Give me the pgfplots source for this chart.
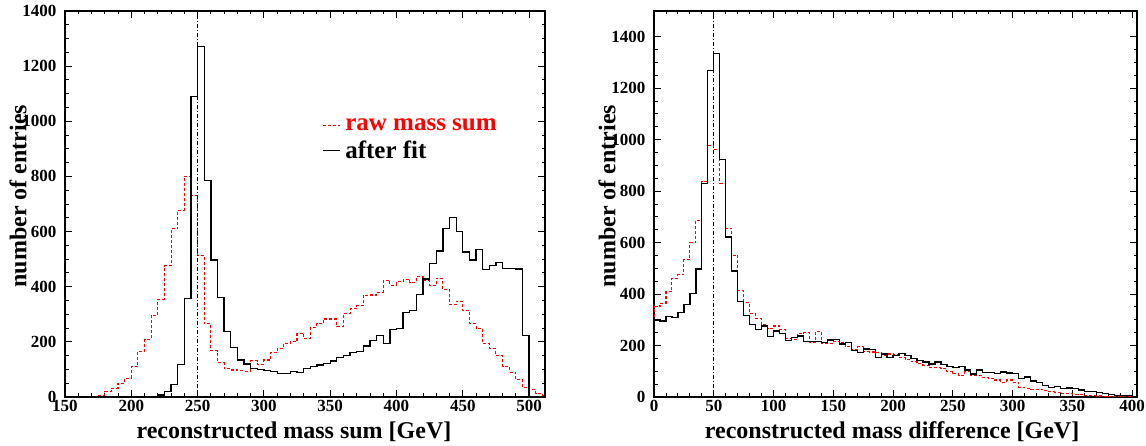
\documentclass[border=0pt]{standalone}
\usepackage{fontspec}
\setmainfont{Liberation Serif}
\usepackage{pgfplots}
\pgfplotsset{compat=1.18}
\usepackage{pgfplotstable}

\pgfplotstableread{
x y
150 0
200 1
205 1
210 2
215 3
220 7
225 20
230 46
235 118
240 357
245 1090
250 1272
255 785
260 497
265 362
270 237
275 180
280 134
285 120
290 104
295 100
300 96
305 92
310 86
315 86
320 92
325 88
330 104
335 110
340 116
345 122
350 131
355 144
360 150
365 161
370 164
375 185
380 204
385 224
390 195
395 245
400 249
405 306
410 313
415 372
420 428
425 485
430 530
435 612
440 651
445 600
450 526
455 497
460 536
465 463
470 476
475 489
480 467
485 467
490 464
495 224
500 0
512 0
}\sumfit

\pgfplotstableread{
x y
150 0
165 2
170 3
175 7
180 19
185 31
190 50
195 68
200 109
205 166
210 210
215 296
220 354
225 476
230 610
235 677
240 800
245 730
250 514
255 265
260 168
265 125
270 102
275 98
280 96
285 94
290 131
295 118
300 134
305 161
310 177
315 195
320 200
325 231
330 211
335 252
340 265
345 283
350 283
355 255
360 302
365 320
370 332
375 369
380 370
385 380
390 422
395 406
400 418
405 427
410 416
415 437
420 423
425 404
430 430
435 390
440 334
445 347
450 314
455 265
460 249
465 195
470 175
475 151
480 111
485 90
490 62
495 35
500 28
505 13
510 4
512 4
}\sumraw

\pgfplotstableread{
x y
0 0
0 299
5 295
10 314
15 309
20 329
25 360
30 402
35 497
40 829
45 1269
50 1334
55 923
60 622
65 490
70 370
75 318
80 283
85 263
90 276
95 234
100 256
105 248
110 219
115 232
120 237
125 215
130 215
135 215
140 211
145 221
150 224
155 206
160 211
165 180
170 173
175 186
180 185
185 154
190 167
195 154
200 162
205 170
210 160
215 150
220 141
225 136
230 128
235 136
240 127
245 119
250 115
255 118
260 105
265 89
270 105
275 94
280 94
285 92
290 97
295 93
300 90
305 72
310 78
315 62
320 55
325 45
330 38
335 40
340 32
345 35
350 32
355 27
360 22
365 21
370 18
375 14
380 10
385 6
390 6
395 5
400 0
404 0
}\difffit

\pgfplotstableread{
x y
0 0
0 351
5 364
10 409
15 461
20 476
25 534
30 599
35 686
40 836
45 977
50 963
55 829
60 655
65 551
70 413
75 367
80 325
85 305
90 280
95 267
100 276
105 262
110 228
115 225
120 247
125 250
130 211
135 254
140 208
145 208
150 217
155 211
160 195
165 185
170 195
175 176
180 175
185 172
190 163
195 167
200 163
205 154
210 146
215 137
220 131
225 124
230 115
235 115
240 111
245 98
250 90
255 84
260 98
265 82
270 82
275 75
280 71
285 66
290 57
295 66
300 58
305 38
310 34
315 30
320 30
325 25
330 21
335 18
340 14
345 12
350 10
355 9
360 6
365 5
370 4
375 3
380 2
385 1
400 0
404 0
}\diffraw

\pgfplotsset{
  roothist/.style={
    scale only axis,
    axis line style={line width=1.1pt},
    every tick/.style={black, line width=0.9pt},
    major tick length=7pt,
    minor tick length=3.5pt,
    minor x tick num=4,
    minor y tick num=3,
    scaled ticks=false,
    /pgf/number format/1000 sep={},
    /pgf/number format/assume math mode=true,
    tick label style={font=\fontsize{17}{17}\selectfont\bfseries},
    yticklabel style={xshift=-5pt},
    label style={font=\fontsize{24}{26}\selectfont\bfseries},
    ylabel={number of entries},
    ymin=0,
  },
}

\begin{document}
\begin{tikzpicture}
\useasboundingbox (0,0) rectangle (1146pt,446pt);

\begin{axis}[roothist,
  at={(65pt,49pt)}, anchor=south west,
  width=480pt, height=386pt,
  xmin=150, xmax=512, ymax=1400,
  xtick={150,200,...,500}, ytick={0,200,...,1400},
  xlabel={reconstructed mass sum [GeV]},
  xlabel style={at={(axis description cs:0.477,-0.09)}, anchor=center},
  ylabel style={at={(axis description cs:-0.098,0.52)}, anchor=center},
  legend style={at={(axis description cs:0.535,0.727)}, anchor=north west,
    draw=none, fill=none, font=\fontsize{25}{27}\selectfont\bfseries,
    row sep=5pt, inner sep=0pt,
    nodes={inner sep=2pt}},
  legend cell align=left,
  legend image code/.code={\draw[#1] (0pt,0pt) -- (17pt,0pt);},
]
\addplot[const plot, red, line width=1.1pt, dash pattern=on 3pt off 2pt] table {\sumraw};
\addlegendentry{\hspace{3pt}\textcolor{red}{raw mass sum}}
\addplot[const plot, black, line width=1.3pt] table {\sumfit};
\addlegendentry{\hspace{3pt}after fit}
\addplot[black, line width=0.7pt, dash pattern=on 4pt off 2pt on 1pt off 2pt, forget plot] coordinates {(250,0) (250,1400)};
\end{axis}

\begin{axis}[roothist,
  at={(654pt,49pt)}, anchor=south west,
  width=483pt, height=386pt,
  xmin=0, xmax=404, ymax=1500,
  xtick={0,50,...,400}, ytick={0,200,...,1400},
  xlabel={reconstructed mass difference [GeV]},
  xlabel style={at={(axis description cs:0.493,-0.09)}, anchor=center},
  ylabel style={at={(axis description cs:-0.097,0.52)}, anchor=center},
]
\addplot[const plot, red, line width=1.1pt, dash pattern=on 3pt off 2pt] table {\diffraw};
\addplot[const plot, black, line width=1.3pt] table {\difffit};
\addplot[black, line width=0.7pt, dash pattern=on 4pt off 2pt on 1pt off 2pt] coordinates {(50,0) (50,1500)};
\end{axis}
\end{tikzpicture}
\end{document}
